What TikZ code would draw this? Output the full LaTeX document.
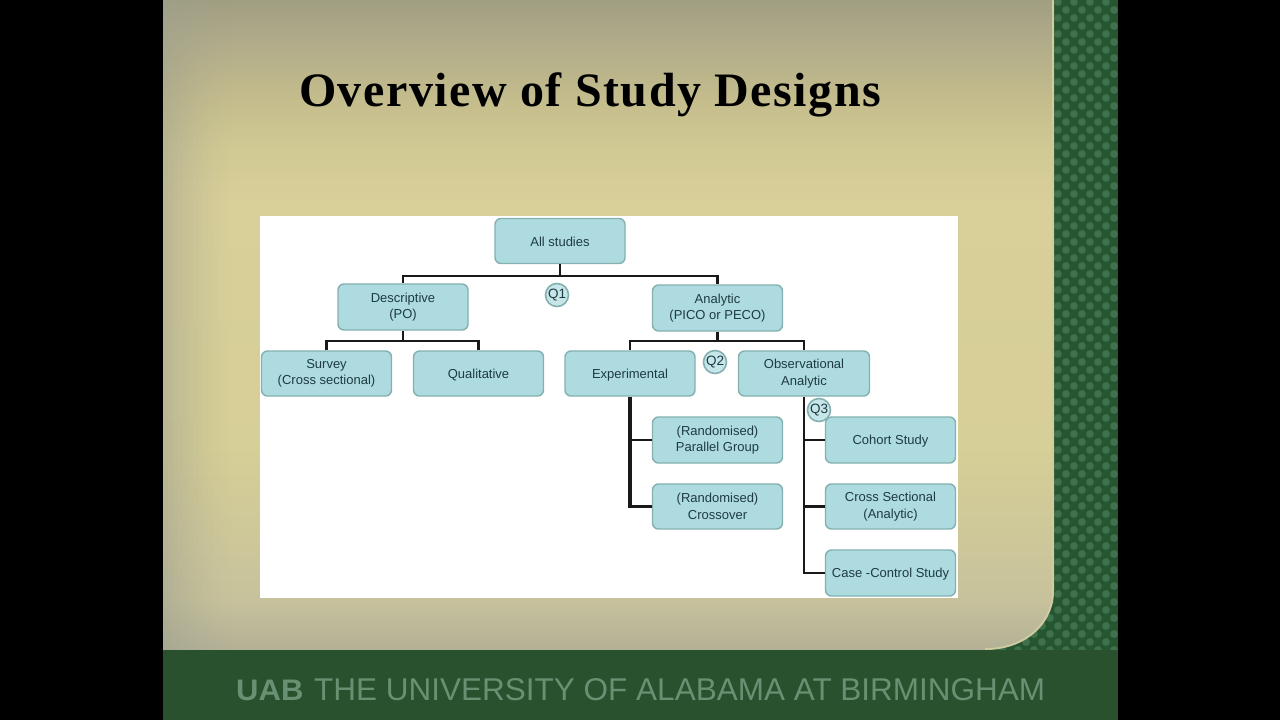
\documentclass[tikz,border=0pt]{standalone}
\usepackage{fontspec}
\setmainfont{Liberation Sans}
\newfontfamily\titlefont[LetterSpace=3.1]{Liberation Serif}
\usetikzlibrary{calc}
\definecolor{slideblack}{RGB}{0,0,0}
\definecolor{uabgreen}{RGB}{41,81,46}
\definecolor{sidegreen}{RGB}{38,86,48}
\definecolor{dotgreen}{RGB}{62,114,76}
\definecolor{footertext}{RGB}{104,144,114}
\definecolor{boxfill}{RGB}{174,219,224}
\definecolor{boxedge}{RGB}{132,176,176}
\definecolor{boxtext}{RGB}{30,58,66}
\definecolor{panelrim}{RGB}{206,204,160}
\definecolor{vignette}{RGB}{158,160,142}
\pgfdeclareverticalshading{panelshade}{100bp}{
  rgb(0bp)=(0.70,0.69,0.59);
  rgb(25bp)=(0.70,0.69,0.59);
  rgb(28.8bp)=(0.78,0.76,0.61);
  rgb(40.4bp)=(0.84,0.81,0.59);
  rgb(59.6bp)=(0.85,0.81,0.60);
  rgb(63.5bp)=(0.82,0.79,0.58);
  rgb(67.3bp)=(0.77,0.74,0.55);
  rgb(71.9bp)=(0.69,0.67,0.54);
  rgb(75bp)=(0.63,0.62,0.51);
  rgb(100bp)=(0.63,0.62,0.51)}
\tikzset{
  x=1pt,y=-1pt,
  studybox/.style={draw=boxedge,line width=1.4pt,fill=boxfill,rounded corners=6pt,
    minimum width=130pt,minimum height=45pt,inner sep=0pt,align=center,
    text=boxtext,font=\fontsize{13}{16.5}\selectfont,
    execute at begin node={\rule{0pt}{12pt}}},
  twoline/.style={execute at begin node={\rule{0pt}{14pt}}},
  qbadge/.style={circle,draw=boxedge,line width=1.6pt,fill=boxfill!70!white,
    minimum size=23pt,inner sep=0pt,text=boxtext,font=\fontsize{13.5}{16}\selectfont},
  link/.style={draw=black!90,line width=2.8pt,line join=miter},
}
\begin{document}
\begin{tikzpicture}
\useasboundingbox (0,0) rectangle (1280,720);
\fill[slideblack] (0,0) rectangle (1280,720);
% side pattern
\fill[sidegreen] (960,0) rectangle (1118,652);
\begin{scope}
\clip (960,0) rectangle (1118,650);
\foreach \r in {0,...,82}{
  \pgfmathsetmacro\off{mod(\r,2)*8}
  \foreach \c in {0,...,11}{
    \fill[dotgreen] ({946+\off+\c*16},{2+\r*8}) circle (3.9pt);
  }
}
\end{scope}
% panel
\path[shading=panelshade] (163,0) -- (1054,0) -- (1054,590)
  .. controls (1054,625) and (1025,650) .. (985,650) -- (163,650) -- cycle;
% left vignette
\foreach \i in {0,...,13}{
  \fill[vignette,opacity={0.5*(1-\i/14)^1.5}] ({163+\i*5},0) rectangle ({168+\i*5},650);
}
\draw[line width=1.6pt,draw=panelrim] (1053,0) -- (1053,590)
  .. controls (1053,624) and (1024,649) .. (985,649);
% footer
\fill[uabgreen] (163,650) rectangle (1118,720);
\node[anchor=west,inner sep=0pt,text=footertext] (logo) at (236,690)
  {\scalebox{1.15}[1.1]{\fontsize{27}{27}\selectfont\bfseries UAB}};
\node[anchor=west,inner sep=0pt,text=footertext] (footer) at (314,690)
  {\fontsize{31.5}{31.5}\selectfont THE UNIVERSITY OF ALABAMA AT BIRMINGHAM};
% title
\node[anchor=west,inner sep=0pt] (title) at (299,95)
  {\titlefont\bfseries\fontsize{48}{50}\selectfont Overview of Study Designs};
% white picture
\fill[white] (260,216) rectangle (958,598);
% boxes
\node[studybox] (all) at (560,241) {All studies};
\node[studybox,twoline,minimum height=46pt] (desc) at (403,307) {Descriptive\\(PO)};
\node[studybox,twoline,minimum height=46pt] (ana) at (717.5,308) {Analytic\\(PICO or PECO)};
\node[studybox,twoline] (survey) at (326.5,373.5) {Survey\\(Cross sectional)};
\node[studybox] (qual) at (478.5,373.5) {Qualitative};
\node[studybox] (exp) at (630,373.5) {Experimental};
\node[studybox,twoline,minimum width=131pt] (obs) at (804,373.5) {Observational\\Analytic};
\node[studybox,twoline,minimum height=46pt] (par) at (717.5,440) {(Randomised)\\Parallel Group};
\node[studybox,twoline] (cross) at (717.5,506.5) {(Randomised)\\Crossover};
\node[studybox,minimum height=46pt] (coh) at (890.5,440) {Cohort Study};
\node[studybox,twoline] (sec) at (890.5,506.5) {Cross Sectional\\(Analytic)};
\node[studybox,minimum height=46pt] (case) at (890.5,573) {Case -Control Study};
% buses
\coordinate (busa) at (560,276);
\coordinate (busb) at (403,341);
\coordinate (busc) at (717.5,341);
\draw[link] (all.south) -- (busa);
\draw[link] (desc.north) |- (busa) -| (ana.north);
\draw[link] (desc.south) -- (busb);
\draw[link] (survey.north) |- (busb) -| (qual.north);
\draw[link] (ana.south) -- (busc);
\draw[link] (exp.north) |- (busc) -| (obs.north);
\draw[link,line width=3.2pt] (exp.south) |- (cross.west);
\draw[link] (exp.south |- par.west) -- (par.west);
\draw[link] (obs.south) |- (case.west);
\draw[link] (obs.south |- coh.west) -- (coh.west);
\draw[link,line width=3.2pt] (obs.south |- sec.west) -- (sec.west);
% badges
\node[qbadge] (q1) at (557,295) {Q1};
\node[qbadge] (q2) at (715,362) {Q2};
\node[qbadge] (q3) at (819,410) {Q3};
\end{tikzpicture}
\end{document}
